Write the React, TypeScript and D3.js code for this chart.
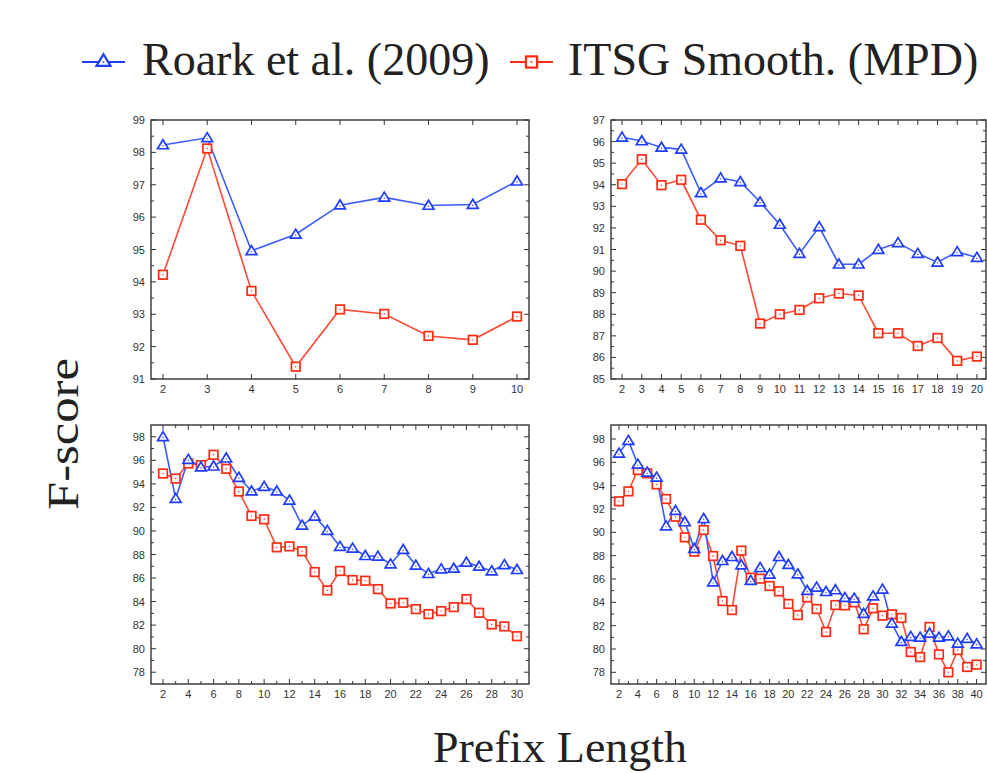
import React from "react";
import * as d3 from "d3";

const W = 987;
const H = 773;

const BLUE = "#1f3dff";
const RED = "#ff2a12";
const BLUE_LINE = "#3b5cff";
const RED_LINE = "#ff4a36";

const legendLabels = ["Roark et al. (2009)", "ITSG Smooth. (MPD)"];

// Panel A: prefix 2..10
const xA = [2, 3, 4, 5, 6, 7, 8, 9, 10];
const roarkA = [98.23, 98.45, 94.96, 95.47, 96.37, 96.61, 96.36, 96.39, 97.11];
const itsgA = [94.22, 98.12, 93.72, 91.38, 93.15, 93.01, 92.33, 92.21, 92.93];

// Panel B: prefix 2..20
const xB = [2, 3, 4, 5, 6, 7, 8, 9, 10, 11, 12, 13, 14, 15, 16, 17, 18, 19, 20];
const roarkB = [96.2, 96.03, 95.73, 95.64, 93.63, 94.31, 94.14, 93.2, 92.16, 90.81, 92.05, 90.32, 90.32, 91.0, 91.31, 90.81, 90.41, 90.89, 90.63];
const itsgB = [94.03, 95.18, 93.98, 94.23, 92.38, 91.43, 91.17, 87.57, 88.0, 88.2, 88.74, 88.96, 88.87, 87.12, 87.12, 86.53, 86.9, 85.84, 86.04];

// Panel C: prefix 2..30
const xC = [2, 3, 4, 5, 6, 7, 8, 9, 10, 11, 12, 13, 14, 15, 16, 17, 18, 19, 20, 21, 22, 23, 24, 25, 26, 27, 28, 29, 30];
const roarkC = [98.0, 92.75, 96.07, 95.42, 95.5, 96.18, 94.54, 93.38, 93.77, 93.38, 92.61, 90.48, 91.25, 90.03, 88.67, 88.52, 87.9, 87.84, 87.19, 88.41, 87.08, 86.37, 86.77, 86.82, 87.33, 86.99, 86.6, 87.13, 86.71];
const itsgC = [94.88, 94.45, 95.73, 95.59, 96.47, 95.28, 93.35, 91.28, 90.99, 88.61, 88.69, 88.27, 86.51, 84.95, 86.6, 85.83, 85.77, 85.06, 83.84, 83.9, 83.36, 82.94, 83.19, 83.53, 84.21, 83.05, 82.06, 81.89, 81.06];

// Panel D: prefix 2..40
const xD = [2, 3, 4, 5, 6, 7, 8, 9, 10, 11, 12, 13, 14, 15, 16, 17, 18, 19, 20, 21, 22, 23, 24, 25, 26, 27, 28, 29, 30, 31, 32, 33, 34, 35, 36, 37, 38, 39, 40];
const roarkD = [96.77, 97.86, 95.83, 95.14, 94.71, 90.54, 91.86, 90.89, 88.6, 91.17, 85.74, 87.57, 87.91, 87.2, 85.86, 86.97, 86.4, 87.91, 87.23, 86.43, 85.0, 85.29, 84.91, 85.06, 84.4, 84.34, 83.03, 84.54, 85.11, 82.2, 80.63, 81.06, 81.0, 81.34, 81.0, 81.11, 80.49, 80.89, 80.43];
const itsgD = [92.66, 93.51, 95.34, 95.06, 94.11, 92.86, 91.34, 89.57, 88.34, 90.2, 87.97, 84.11, 83.34, 88.43, 86.11, 86.03, 85.4, 84.94, 83.86, 82.91, 84.43, 83.43, 81.46, 83.77, 83.74, 84.0, 81.69, 83.49, 82.86, 82.97, 82.66, 79.74, 79.31, 81.89, 79.54, 78.0, 79.91, 78.46, 78.66];

type PanelProps = {
  left: number;
  right: number;
  top: number;
  bottom: number;
  xDomain: [number, number];
  yDomain: [number, number];
  xMax: number;
  xLabelStep: number;
  yMin: number;
  yMax: number;
  yStep: number;
  xs: number[];
  roark: number[];
  itsg: number[];
};

const Triangle = ({ x, y }: { x: number; y: number }) => (
  <g transform={`translate(${x},${y})`}>
    <path d="M0,-5.2 L5.4,3.8 L-5.4,3.8 Z" fill="#fff" stroke={BLUE} strokeWidth={1.7} />
    <circle r={0.7} fill={BLUE} cy={0.8} />
  </g>
);

const Square = ({ x, y }: { x: number; y: number }) => (
  <g transform={`translate(${x},${y})`}>
    <rect x={-4.3} y={-4.3} width={8.6} height={8.6} fill="#fff" stroke={RED} strokeWidth={1.7} />
    <circle r={0.7} fill={RED} />
  </g>
);

const Panel = (p: PanelProps) => {
  const xs = d3.scaleLinear().domain(p.xDomain).range([p.left, p.right]);
  const ys = d3.scaleLinear().domain(p.yDomain).range([p.bottom, p.top]);
  const line = d3
    .line<number>()
    .x((_, i) => xs(p.xs[i]))
    .y((d) => ys(d));
  const xTicks = d3.range(2, p.xMax + 1);
  const yMajor = d3.range(p.yMin, p.yMax + 0.001, p.yStep);
  const yMinor = d3.range(p.yMin + p.yStep / 2, p.yMax, p.yStep);
  const tickColor = "#333";
  const MAJ = 5;
  const MIN = 3;
  return (
    <g>
      <rect x={p.left} y={p.top} width={p.right - p.left} height={p.bottom - p.top} fill="none" stroke="#333" strokeWidth={1.4} />
      {xTicks.map((t) => {
        const major = (t - 2) % p.xLabelStep === 0;
        const len = major ? MAJ : MIN;
        const x = xs(t);
        return (
          <g key={"x" + t}>
            <line x1={x} x2={x} y1={p.bottom} y2={p.bottom - len} stroke={tickColor} strokeWidth={1} />
            <line x1={x} x2={x} y1={p.top} y2={p.top + len} stroke={tickColor} strokeWidth={1} />
            {major && (
              <text x={x} y={p.bottom + 14} textAnchor="middle" fontSize={11} fontFamily="'Liberation Sans', Arial, sans-serif" fill="#333">
                {t}
              </text>
            )}
          </g>
        );
      })}
      {yMajor.map((t) => {
        const y = ys(t);
        return (
          <g key={"y" + t}>
            <line x1={p.left} x2={p.left + MAJ} y1={y} y2={y} stroke={tickColor} strokeWidth={1} />
            <line x1={p.right} x2={p.right - MAJ} y1={y} y2={y} stroke={tickColor} strokeWidth={1} />
            <text x={p.left - 6} y={y + 4} textAnchor="end" fontSize={11} fontFamily="'Liberation Sans', Arial, sans-serif" fill="#333">
              {Math.round(t)}
            </text>
          </g>
        );
      })}
      {yMinor.map((t) => {
        const y = ys(t);
        return (
          <g key={"ym" + t}>
            <line x1={p.left} x2={p.left + MIN} y1={y} y2={y} stroke={tickColor} strokeWidth={1} />
            <line x1={p.right} x2={p.right - MIN} y1={y} y2={y} stroke={tickColor} strokeWidth={1} />
          </g>
        );
      })}
      <path d={line(p.itsg) || ""} fill="none" stroke={RED_LINE} strokeWidth={1.6} />
      <path d={line(p.roark) || ""} fill="none" stroke={BLUE_LINE} strokeWidth={1.6} />
      {p.itsg.map((v, i) => (
        <Square key={"s" + i} x={xs(p.xs[i])} y={ys(v)} />
      ))}
      {p.roark.map((v, i) => (
        <Triangle key={"t" + i} x={xs(p.xs[i])} y={ys(v)} />
      ))}
    </g>
  );
};

export default function App() {
  const serif = "'Liberation Serif', 'Times New Roman', serif";
  return (
    <svg width={W} height={H} style={{ position: "absolute", left: 0, top: 0, background: "#fff" }}>
      <rect width={W} height={H} fill="#fff" />
      {/* Legend */}
      <g>
        <line x1={82} x2={125} y1={62} y2={62} stroke={BLUE} strokeWidth={2.2} />
        <g transform="translate(103.5,61) scale(1.3)">
          <Triangle x={0} y={0} />
        </g>
        <text x={142} y={75} fontSize={46} fontFamily={serif} fill="#222">
          {legendLabels[0]}
        </text>
        <line x1={510} x2={553} y1={62} y2={62} stroke={RED} strokeWidth={2.2} />
        <g transform="translate(531.5,62) scale(1.3)">
          <Square x={0} y={0} />
        </g>
        <text x={568} y={75} fontSize={46} fontFamily={serif} fill="#222">
          {legendLabels[1]}
        </text>
      </g>

      <Panel left={151} right={529} top={120} bottom={379} xDomain={[1.73, 10.27]} yDomain={[91, 99]} xMax={10} xLabelStep={1} yMin={91} yMax={99} yStep={1} xs={xA} roark={roarkA} itsg={itsgA} />
      <Panel left={611} right={986} top={120} bottom={379} xDomain={[1.44, 20.46]} yDomain={[85, 97]} xMax={20} xLabelStep={1} yMin={85} yMax={97} yStep={1} xs={xB} roark={roarkB} itsg={itsgB} />
      <Panel left={151} right={529} top={425} bottom={684} xDomain={[1.05, 30.95]} yDomain={[77, 99]} xMax={30} xLabelStep={2} yMin={78} yMax={98} yStep={2} xs={xC} roark={roarkC} itsg={itsgC} />
      <Panel left={611} right={986} top={425} bottom={684} xDomain={[1.15, 41.0]} yDomain={[77, 99.2]} xMax={40} xLabelStep={2} yMin={78} yMax={98} yStep={2} xs={xD} roark={roarkD} itsg={itsgD} />

      <text transform="translate(78,434) rotate(-90)" textAnchor="middle" fontSize={44} fontFamily={serif} fill="#222" textLength={152} lengthAdjust="spacingAndGlyphs">
        F-score
      </text>
      <text x={560} y={762} textAnchor="middle" fontSize={44} fontFamily={serif} fill="#222" textLength={254} lengthAdjust="spacingAndGlyphs">
        Prefix Length
      </text>
    </svg>
  );
}
